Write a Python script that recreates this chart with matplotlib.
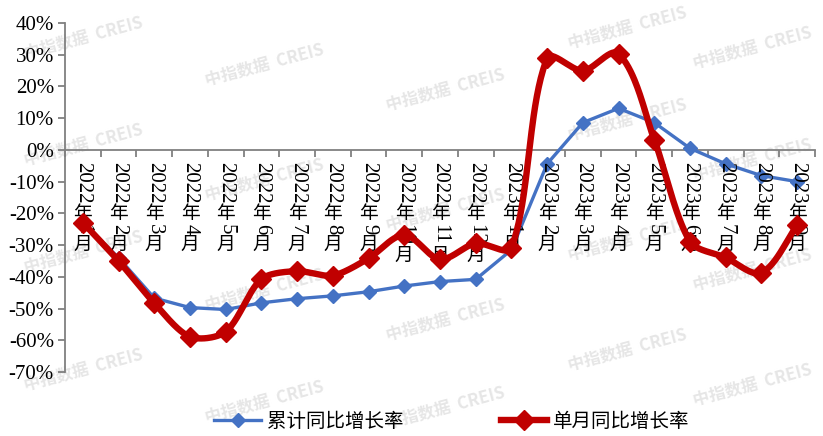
import numpy as np
import matplotlib
matplotlib.use("Agg")
import matplotlib.pyplot as plt
from matplotlib.lines import Line2D

# ---------------- data ----------------
years = ["2022"] * 12 + ["2023"] * 9
months = [str(m) for m in range(1, 13)] + [str(m) for m in range(1, 10)]
cumulative = [-23.0, -34.0, -46.7, -49.7, -50.3, -48.2, -46.9, -46.0, -44.7, -42.9,
              -41.5, -40.8, -31.5, -4.4, 8.6, 13.1, 8.6, 0.5, -4.4, -8.1, -10.0]
monthly = [-22.9, -35.0, -48.3, -58.9, -57.3, -40.7, -38.2, -39.6, -34.2, -26.8,
           -34.5, -29.4, -30.8, 28.9, 24.9, 30.3, 3.2, -28.9, -33.9, -38.7, -23.7]
series_names = ["累计同比增长率", "单月同比增长率"]
yticks = list(range(-70, 41, 10))

BLUE = "#4472C4"
RED = "#C00000"
CJK = ["Noto Sans CJK SC", "DejaVu Sans"]
SERIF = ["Liberation Serif", "DejaVu Serif"]

W, H = 823, 436
fig = plt.figure(figsize=(W / 100, H / 100), dpi=100)
L, R, T, B = 65, 815, 23, 372
ax = fig.add_axes([L / W, 1 - B / H, (R - L) / W, (B - T) / H])
ax.patch.set_alpha(0)

# watermarks
wm_pts = [(83, 38), (83, 145), (83, 252), (83, 370),
          (264, 65), (264, 180), (264, 290), (264, 402),
          (445, 90), (445, 210), (445, 320), (445, 408),
          (627, 28), (627, 120), (627, 240), (627, 350),
          (752, 48), (752, 160), (752, 270), (752, 385)]
for (px, py) in wm_pts:
    fig.text(px / W, 1 - py / H, "中指数据  CREIS", fontsize=12, fontweight="bold",
             family=CJK, color="#e6e6e6", rotation=15, ha="center", va="center",
             zorder=-5)

n = len(cumulative)
x = np.arange(n)

ax.set_xlim(-0.5, n - 0.5)
ax.set_ylim(-70, 40)

# smoothed monthly line, control points built in screen space (Excel-like smoothing)
sxu = (R - L) / n          # pixels per category
syu = (B - T) / 110.0      # pixels per percentage point

def smooth(xs, ys, k=0.27, steps=40):
    P = np.column_stack([np.asarray(xs, float) * sxu, np.asarray(ys, float) * syu])
    m = len(P)
    tang = np.zeros_like(P)
    for i in range(m):
        a = P[max(i - 1, 0)]
        b = P[min(i + 1, m - 1)]
        d = b - a
        nd = np.hypot(*d)
        tang[i] = d / nd if nd > 0 else 0
    out = []
    for i in range(m - 1):
        p1, p2 = P[i], P[i + 1]
        seg = np.hypot(*(p2 - p1))
        c1 = p1 + tang[i] * seg * k
        c2 = p2 - tang[i + 1] * seg * k
        t = np.linspace(0, 1, steps, endpoint=False)[:, None]
        out.append((1 - t) ** 3 * p1 + 3 * (1 - t) ** 2 * t * c1 +
                   3 * (1 - t) * t ** 2 * c2 + t ** 3 * p2)
    out.append(P[-1:])
    Q = np.vstack(out)
    return Q[:, 0] / sxu, Q[:, 1] / syu

ax.plot(x, cumulative, color=BLUE, lw=2.4, marker="D", ms=7.5, zorder=3)
sx, sy = smooth(x, monthly)
ax.plot(sx, sy, color=RED, lw=4.6, zorder=4, solid_capstyle="round", solid_joinstyle="round")
ax.plot(x, monthly, ls="none", marker="D", ms=10.5, color=RED, zorder=5)

ax.set_yticks(yticks)
ax.set_yticklabels([f"{v}%" for v in yticks], family=SERIF, fontsize=15)
ax.set_xticks(np.arange(-0.5, n, 1.0))
ax.set_xticklabels([])

for s in ["top", "right"]:
    ax.spines[s].set_visible(False)
ax.spines["bottom"].set_position(("data", 0))
for s in ["left", "bottom"]:
    ax.spines[s].set_color("#808080")
    ax.spines[s].set_linewidth(1.3)
ax.tick_params(axis="both", direction="out", length=5, width=1.3, color="#808080")
ax.tick_params(axis="y", pad=3)

# vertical stacked category labels
trans = ax.get_xaxis_transform()
def fy(p):
    return (B - p) / (B - T)

for i in range(n):
    y0 = 162
    ax.text(i, fy(y0 + 21), years[i], transform=trans, rotation=270, ha="center",
            va="center", family=SERIF, fontsize=15, clip_on=False)
    ax.text(i, fy(y0 + 52), "年", transform=trans, ha="center", va="center",
            family=CJK, fontsize=13.5, clip_on=False)
    mlen = len(months[i]) * 10.5
    ax.text(i, fy(y0 + 62 + mlen / 2), months[i], transform=trans, rotation=270,
            ha="center", va="center", family=SERIF, fontsize=15, clip_on=False)
    ax.text(i, fy(y0 + 62 + mlen + 10), "月", transform=trans, ha="center",
            va="center", family=CJK, fontsize=13.5, clip_on=False)

handles = [Line2D([], [], color=BLUE, lw=2.4, marker="D", ms=7.5),
           Line2D([], [], color=RED, lw=4.6, marker="D", ms=10.5)]
fig.legend(handles, series_names, loc="center", bbox_to_anchor=(452 / W, 1 - 421 / H),
           ncol=2, frameon=False, prop={"family": CJK, "size": 14},
           handlelength=2.4, handletextpad=0.3, columnspacing=5.0)

fig.savefig("out.png", dpi=100)
